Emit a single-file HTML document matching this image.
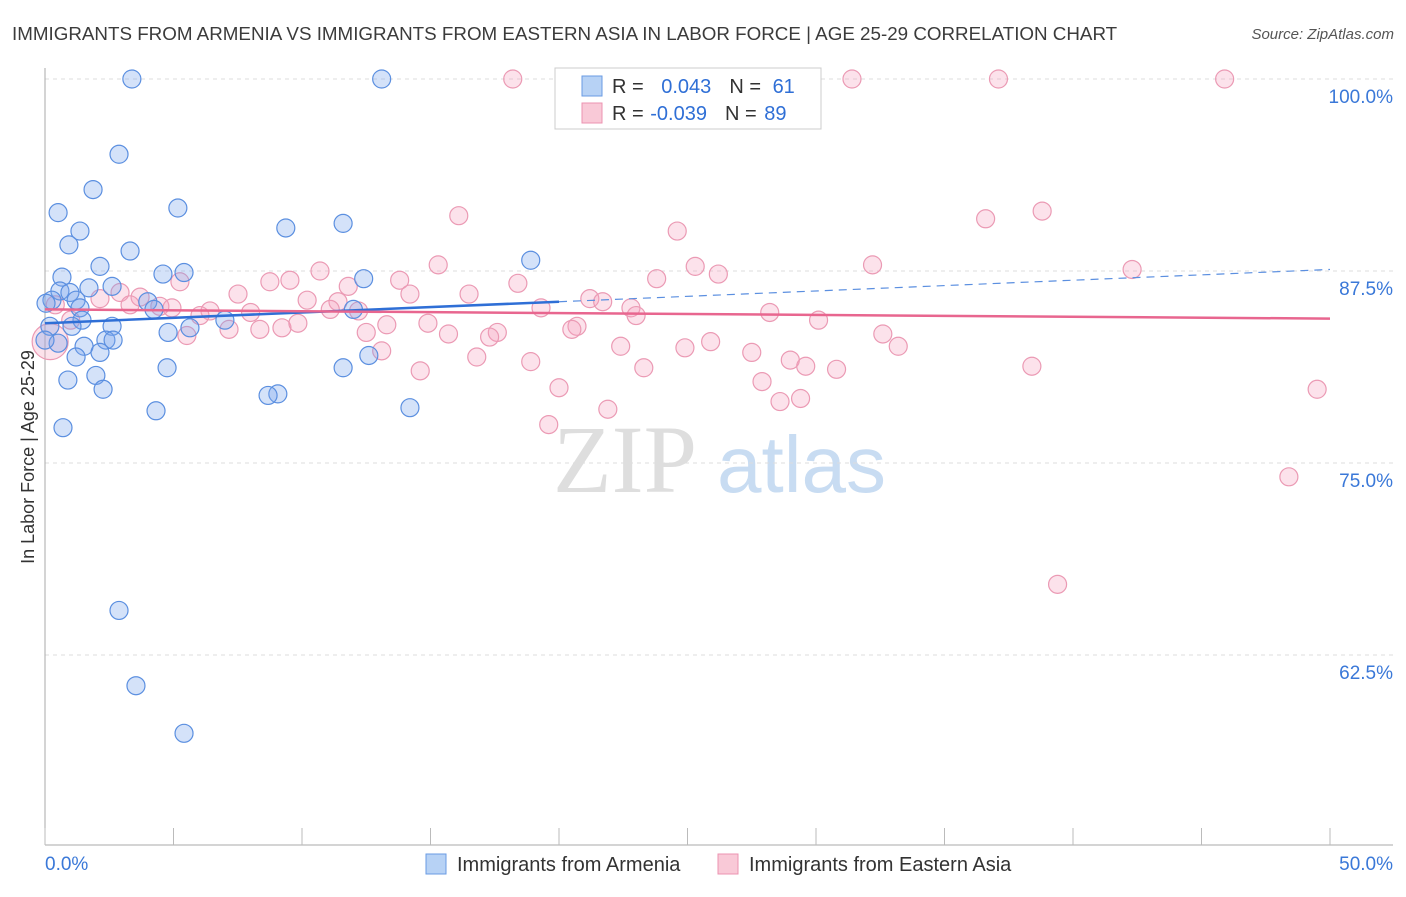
<!DOCTYPE html>
<html><head><meta charset="utf-8"><style>
body{margin:0;background:#fff;font-family:"Liberation Sans",sans-serif}
</style></head><body>
<svg id="chart" width="1406" height="892" xmlns="http://www.w3.org/2000/svg">
<text x="12" y="40" font-size="18.8" fill="#3b3b3b">IMMIGRANTS FROM ARMENIA VS IMMIGRANTS FROM EASTERN ASIA IN LABOR FORCE | AGE 25-29 CORRELATION CHART</text>
<text x="1394" y="39" font-size="15" fill="#555" font-style="italic" text-anchor="end">Source: ZipAtlas.com</text>
<text x="553" y="492" font-size="96" font-family="Liberation Serif,serif" fill="#dedede">ZIP<tspan fill="#c8dcf2" font-family="Liberation Sans,sans-serif" font-size="80" dx="20">atlas</tspan></text>
<text transform="translate(34,457) rotate(-90)" font-size="18" fill="#333" text-anchor="middle">In Labor Force | Age 25-29</text>
<g id="grid"></g><g id="axes"></g><g id="pts"></g><g id="trend"></g>
<g>
<rect x="555" y="68" width="266" height="61" fill="#fff" stroke="#ccc"/>
<rect x="582" y="76" width="20" height="20" fill="#b7d2f5" stroke="#6a9be3"/>
<rect x="582" y="103" width="20" height="20" fill="#f9c9d7" stroke="#ec93b0"/>
<text x="612" y="93" font-size="20" fill="#333">R = <tspan fill="#2f6fd6" dx="12">0.043</tspan><tspan dx="18" fill="#333">N = </tspan><tspan fill="#2f6fd6" dx="6">61</tspan></text>
<text x="612" y="120" font-size="20" fill="#333">R = <tspan fill="#2f6fd6" dx="1">-0.039</tspan><tspan dx="18" fill="#333">N = </tspan><tspan fill="#2f6fd6" dx="2">89</tspan></text>
</g>
<g>
<rect x="426" y="854" width="20" height="20" fill="#b7d2f5" stroke="#6a9be3"/>
<text x="457" y="871" font-size="20" fill="#333">Immigrants from Armenia</text>
<rect x="718" y="854" width="20" height="20" fill="#f9c9d7" stroke="#ec93b0"/>
<text x="749" y="871" font-size="20" fill="#333">Immigrants from Eastern Asia</text>
</g>
</svg>
<script>
const yTicks=[100,87.5,75,62.5];
const yTickLabels=["100.0%","87.5%","75.0%","62.5%"];
const xTickLabels=["0.0%","50.0%"];
const armeniaX=[3.38,13.1,2.88,1.87,0.51,5.17,1.36,0.93,9.37,11.6,3.31,18.9,2.14,0.66,4.59,5.41,12.4,2.61,1.71,0.58,0.97,0.27,0.04,1.21,4.0,4.24,1.36,12.0,1.44,7.0,0.19,2.61,1.05,4.79,5.64,2.37,2.65,0.51,1.52,2.14,1.21,12.6,11.6,4.75,1.98,0.89,2.26,9.06,8.68,14.2,4.32,0.70,2.88,3.54,5.41,0];
const armeniaY=[100,100,95.1,92.8,91.3,91.6,90.1,89.2,90.3,90.6,88.8,88.2,87.8,87.1,87.3,87.4,87.0,86.5,86.4,86.2,86.1,85.6,85.4,85.6,85.5,85.0,85.1,85.0,84.3,84.3,83.9,83.9,83.9,83.5,83.8,83.0,83.0,82.8,82.6,82.2,81.9,82.0,81.2,81.2,80.7,80.4,79.8,79.5,79.4,78.6,78.4,77.3,65.4,60.5,57.4,83.0];
const easternX=[18.2,31.4,37.1,45.9,16.1,38.8,36.6,24.6,15.3,25.3,32.2,42.3,26.2,23.8,10.7,8.75,9.53,13.8,11.8,18.4,7.51,14.2,16.5,21.2,21.7,10.2,11.4,2.14,2.92,3.70,5.25,3.31,4.47,4.94,6.42,6.03,8.0,11.1,12.2,19.3,22.8,23.0,28.2,30.1,7.16,8.36,9.22,9.84,13.3,14.9,15.7,12.5,17.6,17.3,20.7,20.5,32.6,5.52,22.4,24.9,25.9,27.5,33.2,13.1,16.8,18.9,29.0,29.6,30.8,23.3,14.6,38.4,27.9,20.0,28.6,29.4,49.5,21.9,19.6,48.4,39.4,0.4,1.0,0.2];
const easternY=[100,100,100,100,91.1,91.4,90.9,90.1,87.9,87.8,87.9,87.6,87.3,87.0,87.5,86.8,86.9,86.9,86.5,86.7,86.0,86.0,86.0,85.7,85.5,85.6,85.5,85.7,86.1,85.8,86.8,85.3,85.2,85.1,84.9,84.6,84.8,85.0,84.9,85.1,85.1,84.6,84.8,84.3,83.7,83.7,83.8,84.1,84.0,84.1,83.4,83.5,83.5,83.2,83.9,83.7,83.4,83.3,82.6,82.5,82.9,82.2,82.6,82.3,81.9,81.6,81.7,81.3,81.1,81.2,81.0,81.3,80.3,79.9,79.0,79.2,79.8,78.5,77.5,74.1,67.1,85.3,84.3,82.9];
const armeniaTrend=[84.1,87.6];
const easternTrend=[85.0,84.4];
const armeniaSolidEnd=20;
const NS="http://www.w3.org/2000/svg";
const xs=v=>45+v/50*1285, ys=v=>79+(100-v)*15.36;
function mk(p,t,a){const e=document.createElementNS(NS,t);for(const k in a)e.setAttribute(k,a[k]);p.appendChild(e);return e;}
const grid=document.getElementById('grid'),axes=document.getElementById('axes'),pts=document.getElementById('pts'),tr=document.getElementById('trend');
yTicks.forEach((v,i)=>{
 const l=mk(grid,'line',{x1:45,x2:1393,y1:ys(v),y2:ys(v),stroke:'#ddd','stroke-dasharray':'4,4'});
 
 
 const t=mk(grid,'text',{x:1393,y:ys(v)+24,'font-size':19,fill:'#3a78d8','text-anchor':'end'});
 t.textContent=yTickLabels[i];
 
 
});
const ax=mk(axes,'line',{x1:45,x2:45,y1:68,y2:845,stroke:'#aaa'});


const bx=mk(axes,'line',{x1:45,x2:1393,y1:845,y2:845,stroke:'#aaa'});


for(let i=0;i<=10;i++){const tk=mk(axes,'line',{x1:xs(i*5),x2:xs(i*5),y1:828,y2:845,stroke:'#bbb'});
 
 }
[[0,'start',45],[1,'end',1393]].forEach(([i,a,x])=>{const t=mk(axes,'text',{x:x,y:870,'font-size':19,fill:'#3a78d8','text-anchor':a});t.textContent=xTickLabels[i];
 
 });
easternX.forEach((x,i)=>{const c=mk(pts,'circle',{cx:xs(x),cy:ys(easternY[i]),r:(i==easternX.length-1?18:9),fill:'rgba(244,160,188,0.3)',stroke:'#eb9ab4','stroke-width':1.2});
 
 });
armeniaX.forEach((x,i)=>{const c=mk(pts,'circle',{cx:xs(x),cy:ys(armeniaY[i]),r:9,fill:'rgba(120,165,235,0.32)',stroke:'#5b8fe0','stroke-width':1.2});
 
 });
const at=x=>armeniaTrend[0]+(armeniaTrend[1]-armeniaTrend[0])*x/50;
const l1=mk(tr,'line',{x1:xs(0),y1:ys(at(0)),x2:xs(armeniaSolidEnd),y2:ys(at(armeniaSolidEnd)),stroke:'#2f6fd6','stroke-width':2.5});


const l2=mk(tr,'line',{x1:xs(armeniaSolidEnd),y1:ys(at(armeniaSolidEnd)),x2:xs(50),y2:ys(at(50)),stroke:'#5b8fe0','stroke-width':1.2,'stroke-dasharray':'8,6'});


const l3=mk(tr,'line',{x1:xs(0),y1:ys(easternTrend[0]),x2:xs(50),y2:ys(easternTrend[1]),stroke:'#e8668f','stroke-width':2.5});


</script>
</body></html>
